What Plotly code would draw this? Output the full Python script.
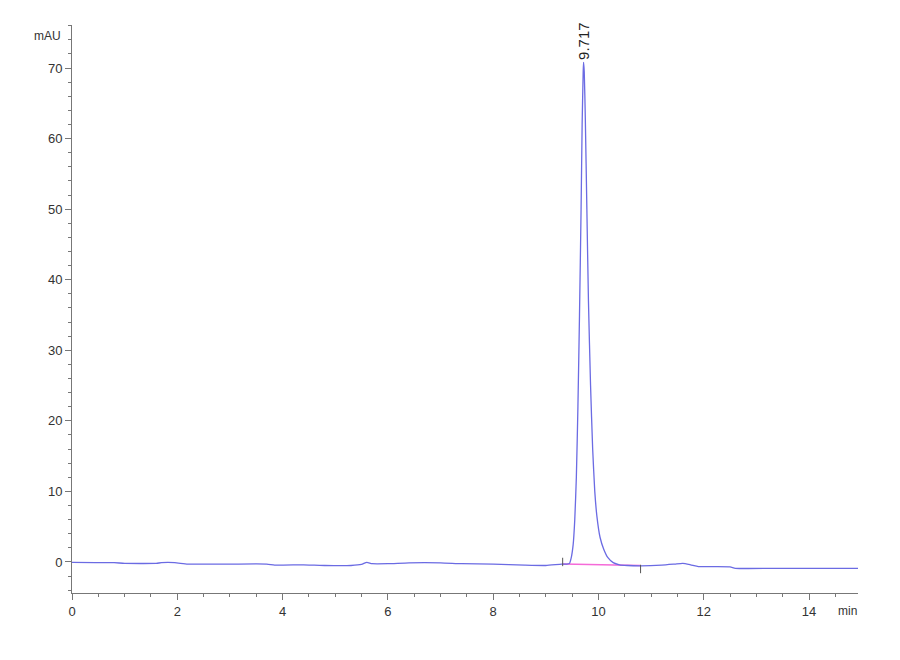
import plotly.graph_objects as go

# chromatogram trace (min, mAU)
time_min = [0.0, 0.8, 1.0, 1.6, 1.7, 1.95, 2.2, 3.0, 3.7, 3.85, 4.4, 4.6, 4.8, 5.3,
            5.5, 5.6, 5.7, 6.0, 6.4, 7.0, 7.4, 8.0, 8.6, 9.0, 9.3, 9.4, 9.45,
            9.48, 9.52, 9.55, 9.58, 9.61, 9.64, 9.67, 9.69, 9.71, 9.717, 9.73,
            9.75, 9.78, 9.81, 9.85, 9.89, 9.93, 9.97, 10.03, 10.1, 10.18, 10.28,
            10.4, 10.55, 10.8, 11.2, 11.45, 11.6, 11.75, 11.9, 12.5, 12.6, 13.5, 14.93]
signal_mau = [-0.05, -0.1, -0.2, -0.2, -0.1, -0.1, -0.3, -0.3, -0.3, -0.45, -0.4, -0.45,
              -0.5, -0.5, -0.35, -0.05, -0.25, -0.25, -0.12, -0.12, -0.25, -0.3, -0.45,
              -0.5, -0.3, -0.3, -0.2, 0.5, 2.5, 6.0, 12.0, 22.0, 35.0, 50.0, 62.0, 69.5,
              70.8, 69.5, 63.0, 50.0, 37.0, 25.0, 16.0, 10.0, 6.5, 3.5, 1.8, 0.6, -0.1,
              -0.4, -0.5, -0.55, -0.45, -0.3, -0.2, -0.4, -0.65, -0.7, -0.9, -0.9, -0.9]

# integration baseline of the peak
base_time = [9.32, 10.8]
base_mau = [-0.3, -0.5]
# start / end marks of the integration
mark_time = [9.32, 10.8]
mark_mau = [0.0, -1.0]

peak_rt = 9.717
peak_height = 70.8

x_ticks = [0, 2, 4, 6, 8, 10, 12, 14]
y_ticks = [0, 10, 20, 30, 40, 50, 60, 70]

font_name = "Liberation Sans Narrow, Liberation Sans, Arial"
text_color = '#333333'
axis_color = '#777777'

fig = go.Figure()

fig.add_trace(go.Scatter(
    x=base_time, y=base_mau, mode='lines',
    line=dict(color='#f56ad8', width=1.5), hoverinfo='skip'
))
fig.add_trace(go.Scatter(
    x=time_min, y=signal_mau, mode='lines',
    line=dict(color='#6b6be3', width=1.3, shape='spline', smoothing=0.5)
))
fig.add_trace(go.Scatter(
    x=mark_time, y=mark_mau, mode='markers',
    marker=dict(symbol='line-ns-open', size=6, color='#555555', line=dict(color='#555555', width=1))
))

fig.add_annotation(
    x=peak_rt, y=peak_height, text=f"{peak_rt:.3f}", textangle=-90,
    showarrow=False, xanchor='center', yanchor='bottom', yshift=0,
    font=dict(family=font_name, size=15, color='#222222')
)
fig.add_annotation(
    xref='paper', x=0, y=74.6, text='mAU', showarrow=False,
    xanchor='right', xshift=-9, font=dict(family=font_name, size=12, color=text_color)
)
fig.add_annotation(
    x=14.73, yref='paper', y=0, text='min', showarrow=False,
    yanchor='top', yshift=-9, font=dict(family=font_name, size=12, color=text_color)
)

axis_common = dict(
    showgrid=False, zeroline=False, showline=True, linecolor=axis_color, linewidth=1,
    ticks='outside', ticklen=6, tickcolor=axis_color, tickwidth=1,
    tickfont=dict(family=font_name, size=13, color=text_color),
)

fig.update_xaxes(
    range=[0, 14.93], tickvals=x_ticks,
    minor=dict(ticks='outside', ticklen=3, tickcolor=axis_color, dtick=0.5, tick0=0),
    **axis_common
)
fig.update_yaxes(
    range=[-4.4, 76.1], tickvals=y_ticks,
    minor=dict(ticks='outside', ticklen=3, tickcolor=axis_color, dtick=2, tick0=0),
    **axis_common
)

fig.update_layout(
    width=900, height=660,
    margin=dict(l=64, r=50, t=17, b=75),
    plot_bgcolor='white', paper_bgcolor='white',
    showlegend=False,
)

fig.write_html("out.html")
